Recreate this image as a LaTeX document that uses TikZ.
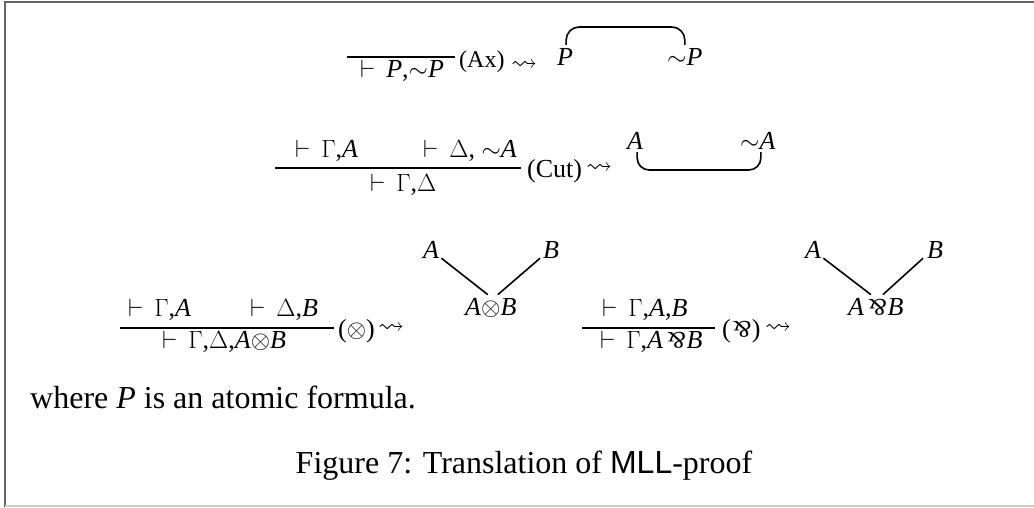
\documentclass[tikz,border=0pt]{standalone}
\usepackage{fontspec}
\setmainfont{Liberation Serif}
\setsansfont{Liberation Sans}
\usepackage{amssymb}
\usepackage{graphicx}
\newcommand{\rsz}{\fontsize{26}{31}\selectfont}
\newcommand{\bsz}{\fontsize{32}{38}\selectfont}
\newcommand{\tstile}{$\vdash$\hspace{0.42em}}
\newcommand{\iv}[1]{\textit{#1}}
\newcommand{\negt}{$\sim$}
\newcommand{\tens}{$\otimes$}
\newcommand{\parbare}{\scalebox{0.92}{\rotatebox[origin=c]{180}{\&}}}
\newcommand{\parsym}{\hspace{0.16em}\parbare\hspace{0.03em}}
\newcommand{\leadsym}{$\rightsquigarrow$}
\begin{document}
\begin{tikzpicture}[x=1pt,y=-1pt,
  seqt/.style={anchor=base west, inner sep=0pt, font=\rsz},
  gnode/.style={anchor=base west, inner sep=0pt, font=\rsz},
  rlabel/.style={anchor=base west, inner sep=0pt, font=\rsz},
  leadto/.style={anchor=base, inner sep=0pt, font=\rsz},
  rulebar/.style={line width=1.3pt},
  link/.style={line width=1.6pt},
  frameline/.style={line width=2pt, draw=black!60}]
\useasboundingbox (0,0) rectangle (1034,507);
\draw[frameline] (5,507) -- (5,1.5) -- (1034,1.5);
\draw[line width=2pt, draw=black!20] (5,505.5) -- (1034,505.5);

% ---- Row 1: Ax
\coordinate (b1l) at (347,57);
\coordinate (b1r) at (455,57);
\draw[rulebar] (b1l) -- (b1r);
\node[seqt] (c1) at (360,77) {\tstile\iv{P},\negt\iv{P}};
\node[rlabel, font=\fontsize{24}{28}\selectfont] (l1) at (459,67) {(Ax)};
\node[leadto] (w1) at (524,70) {\leadsym};
\node[gnode] (P1) at (557,65) {\iv{P}};
\node[gnode] (nP1) at (667,65) {\negt\iv{P}};
\coordinate (top1) at (0,27);
\draw[link, rounded corners=13pt] ([xshift=1pt,yshift=3pt]P1.north) -- ([xshift=1pt]P1.north |- top1) -- (nP1.north |- top1) -- ([yshift=3pt]nP1.north);

% ---- Row 2: Cut
\node[seqt] (p2a) at (295,157) {\tstile$\Gamma$,\iv{A}};
\node[seqt] (p2b) at (423,157) {\tstile$\Delta$, \negt\iv{A}};
\coordinate (b2l) at (275,168);
\coordinate (b2r) at (521,168);
\draw[rulebar] (b2l) -- (b2r);
\node[seqt] (c2) at (370,191) {\tstile$\Gamma$,$\Delta$};
\node[rlabel] (l2) at (527,177) {(Cut)};
\node[leadto] (w2) at (599,173) {\leadsym};
\node[gnode] (A2) at (627,149) {\iv{A}};
\node[gnode] (nA2) at (740,149) {\negt\iv{A}};
\coordinate (bot2) at (0,170);
\draw[link, rounded corners=12pt] ([xshift=2pt,yshift=-3pt]A2.south) -- ([xshift=2pt]A2.south |- bot2) -- ([xshift=3pt]nA2.south |- bot2) -- ([xshift=3pt,yshift=-3pt]nA2.south);

% ---- Row 3 left: tensor
\node[seqt] (p3a) at (128,316) {\tstile$\Gamma$,\iv{A}};
\node[seqt] (p3b) at (250,316) {\tstile$\Delta$,\iv{B}};
\coordinate (b3l) at (120,328);
\coordinate (b3r) at (334,328);
\draw[rulebar] (b3l) -- (b3r);
\node[seqt] (c3) at (162,348) {\tstile$\Gamma$,$\Delta$,\iv{A}\tens\iv{B}};
\node[rlabel] (l3) at (338,337) {(\tens)};
\node[leadto] (w3) at (391,333) {\leadsym};
\node[gnode] (A3) at (423,258) {\iv{A}};
\node[gnode] (B3) at (543,258) {\iv{B}};
\node[gnode] (T3) at (465,315) {\iv{A}\tens\iv{B}};
\draw[link] ([xshift=2pt]A3.south east) -- ([xshift=-3pt,yshift=3pt]T3.north);
\draw[link] ([xshift=-3pt]B3.south west) -- ([xshift=7pt,yshift=3pt]T3.north);

% ---- Row 3 right: par
\node[seqt] (p4) at (602,316) {\tstile$\Gamma$,\iv{A},\iv{B}};
\coordinate (b4l) at (582,328);
\coordinate (b4r) at (715,328);
\draw[rulebar] (b4l) -- (b4r);
\node[seqt] (c4) at (600,348) {\tstile$\Gamma$,\iv{A}\parsym\iv{B}};
\node[rlabel] (l4) at (722,337) {(\hspace{0.07em}\parbare\hspace{0.02em})};
\node[leadto] (w4) at (778,333) {\leadsym};
\node[gnode] (A4) at (805,258) {\iv{A}};
\node[gnode] (B4) at (927,258) {\iv{B}};
\node[gnode] (T4) at (848,315) {\iv{A}\parsym\iv{B}};
\draw[link] ([xshift=2pt]A4.south east) -- ([xshift=-5pt,yshift=3pt]T4.north);
\draw[link] ([xshift=-4pt]B4.south west) -- ([xshift=7pt,yshift=3pt]T4.north);

% ---- text
\node[anchor=base west, inner sep=0pt, font=\bsz] (where) at (30,408) {where \iv{P} is an atomic formula.};
\node[anchor=base, inner sep=0pt, font=\bsz] (cap) at (524,473) {Figure 7: Translation of \textsf{MLL}-proof};
\end{tikzpicture}
\end{document}
